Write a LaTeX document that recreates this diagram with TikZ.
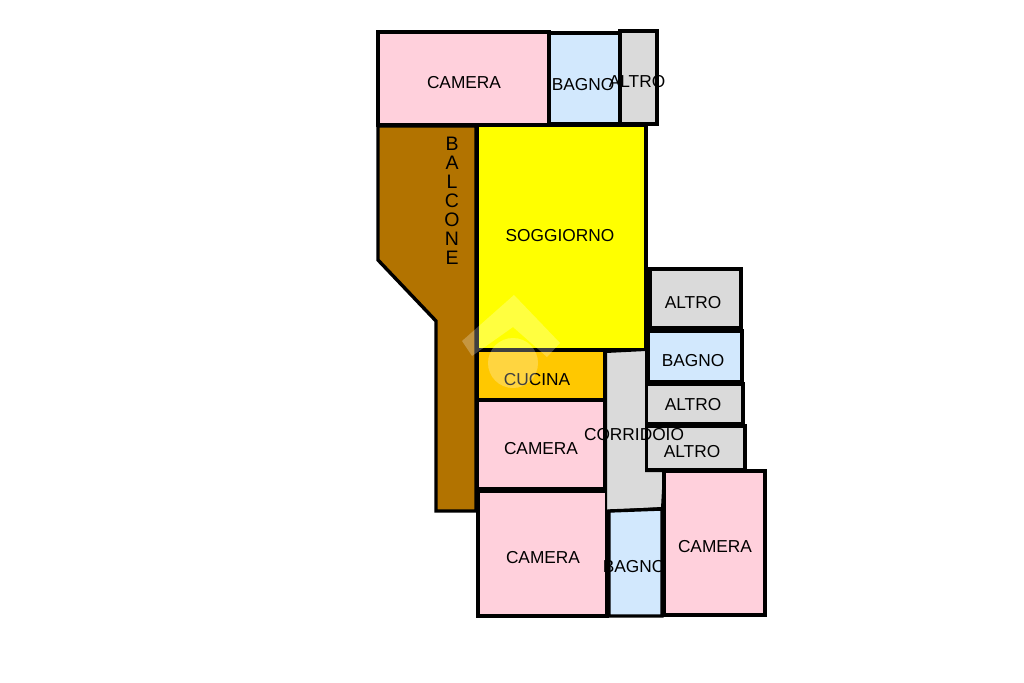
\documentclass[tikz,border=0pt]{standalone}
\usepackage{fontspec}
\setmainfont{Liberation Sans}
\begin{document}
\begin{tikzpicture}[x=1pt,y=-1pt]
        \tikzstyle{room}=[draw=black,line width=3.4pt,line join=miter]
        \tikzstyle{roomname}=[inner sep=0pt,font=\fontsize{17.3}{19}\selectfont,text=black]
        \tikzstyle{logo}=[fill=white,fill opacity=0.25]
        \definecolor{pinkroom}{HTML}{FFD0DC}
        \definecolor{blueroom}{HTML}{D2E8FD}
        \definecolor{greyroom}{HTML}{DADADA}
        \definecolor{livingroom}{HTML}{FFFF00}
        \definecolor{kitchen}{HTML}{FFC800}
        \definecolor{terrace}{HTML}{B27300}
        \useasboundingbox (0,0) rectangle (1024,682);
        % top row
        \draw[room,fill=pinkroom] (378,32) rectangle (549,125);
        \draw[room,fill=blueroom] (549,33) rectangle (620,124);
        \draw[room,fill=greyroom] (620,31) rectangle (657,124);
        \node[roomname] (cameraA) at (464,83) {CAMERA};
        \node[roomname] (bagnoA) at (583,85) {BAGNO};
        \node[roomname] (altroA) at (637,82) {ALTRO};
        % balcony and living room
        \draw[room,fill=terrace] (378,126) -- (476,126) -- (476,511) -- (436,511) -- (436,321) -- (378,260) -- cycle;
        \draw[room,fill=livingroom] (477,125) rectangle (646,350);
        \node[roomname,align=center,font=\fontsize{19.5}{19}\selectfont] (balcone) at (452,201) {B\\A\\L\\C\\O\\N\\E};
        \node[roomname] (soggiorno) at (560,236) {SOGGIORNO};
        % rooms on the right
        \draw[room,fill=greyroom] (650,269) rectangle (741,328);
        \draw[room,fill=blueroom] (648,331) rectangle (742,382);
        \draw[room,fill=greyroom] (646,384) rectangle (743,424);
        \draw[room,fill=greyroom] (646,426) rectangle (745,470);
        \node[roomname] (altroB) at (693,303) {ALTRO};
        \node[roomname] (bagnoB) at (693,361) {BAGNO};
        \node[roomname] (altroC) at (693,405) {ALTRO};
        % kitchen and bedrooms
        \draw[room,fill=kitchen] (477,350) rectangle (605,400);
        \draw[room,fill=pinkroom] (477,400) rectangle (605,489);
        \draw[room,fill=pinkroom] (478,491) rectangle (607,616);
        \draw[room,fill=greyroom,line width=2pt] (606,352) -- (646,350) -- (646,471) -- (664,471) -- (662,508) -- (606,511) -- cycle;
        \draw[room,fill=blueroom] (609,511) -- (662,509) -- (662,616) -- (609,616) -- cycle;
        \node[roomname] (cucina) at (537,380) {CUCINA};
        \node[roomname] (cameraB) at (541,449) {CAMERA};
        \node[roomname] (cameraC) at (543,558) {CAMERA};
        \node[roomname] (bagnoC) at (634,567) {BAGNO};
        \draw[room,fill=pinkroom] (664,471) rectangle (765,615);
        \node[roomname] (cameraD) at (715,547) {CAMERA};
        \node[roomname] (altroD) at (692,452) {ALTRO};
        \node[roomname] (corridoio) at (634,435) {CORRIDOIO};
        % faint logo
        \path[logo] (514,295) -- (560,343) -- (547,357) -- (513,327) -- (472,356) -- (462,341) -- cycle;
        \path[logo] (513,363) circle (25);
\end{tikzpicture}
\end{document}
